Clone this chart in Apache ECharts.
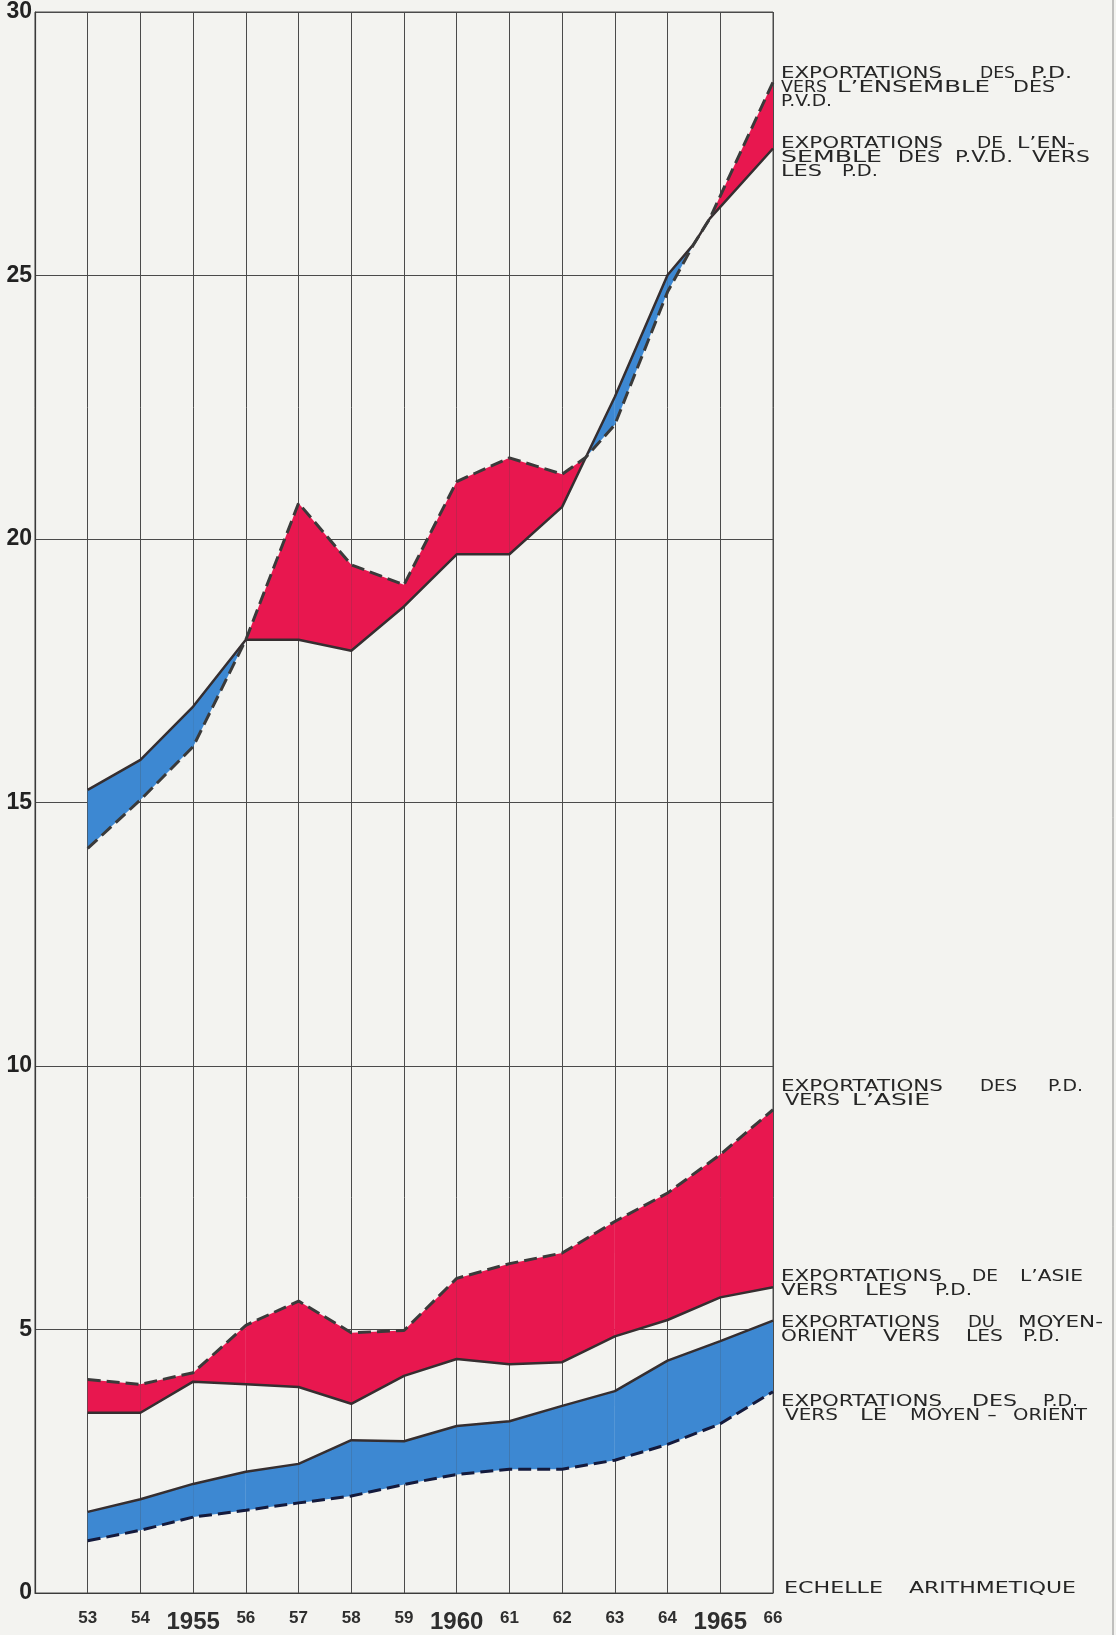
<!DOCTYPE html>
<html>
<head>
<meta charset="utf-8">
<title>Exportations P.D. / P.V.D.</title>
<script src="https://cdn.jsdelivr.net/npm/echarts@6.0.0/dist/echarts.min.js"></script>
<style>
  html, body { margin: 0; padding: 0; background: #f3f3f0; }
  #chart { width: 1116px; height: 1635px; }
</style>
</head>
<body>
<div id="chart"></div>
<script>
// upper pair: P.D. <-> ensemble des P.V.D. (crossing points)
const upperYears = [53, 54, 55, 56, 57, 58, 59, 60, 61, 62, 62.45, 63, 64, 64.5, 64.8, 66];
const pdVersPvd = [14.13, 15.05, 16.06, 18.09, 20.68, 19.51, 19.13, 21.09, 21.54, 21.23, 21.55, 22.17, 24.69, 25.6, 26.08, 28.67];
const pvdVersPd = [15.24, 15.81, 16.82, 18.09, 18.09, 17.88, 18.72, 19.71, 19.71, 20.61, 21.55, 22.7, 25.01, 25.6, 26.08, 27.41];

// lower pairs: Asie and Moyen-Orient
const lowerYears = [53, 54, 55, 56, 57, 58, 59, 60, 61, 62, 63, 64, 65, 66];
const pdVersAsie = [4.05, 3.96, 4.18, 5.08, 5.54, 4.94, 4.98, 5.97, 6.25, 6.45, 7.05, 7.59, 8.32, 9.17];
const asieVersPd = [3.42, 3.42, 4.01, 3.96, 3.91, 3.59, 4.12, 4.44, 4.34, 4.38, 4.87, 5.18, 5.61, 5.8];
const moVersPd = [1.54, 1.78, 2.07, 2.3, 2.45, 2.9, 2.88, 3.17, 3.26, 3.55, 3.83, 4.41, 4.78, 5.17];
const pdVersMo = [0.99, 1.19, 1.44, 1.57, 1.71, 1.84, 2.06, 2.25, 2.35, 2.35, 2.52, 2.82, 3.21, 3.82];

const bigYears = { 55: "1955", 60: "1960", 65: "1965" };

// right-hand captions: each word stretched between its left and right edge (justified lettering)
const labelBlocks = [
  { top: 67, lines: [
    [["EXPORTATIONS", 781, 942], ["DES", 980, 1015], ["P.D.", 1031, 1072]],
    [["VERS", 781, 827], ["L\u2019ENSEMBLE", 837, 990], ["DES", 1013, 1055]],
    [["P.V.D.", 781, 832]]
  ] },
  { top: 137, lines: [
    [["EXPORTATIONS", 781, 943], ["DE", 977, 1003], ["L\u2019EN-", 1017, 1075]],
    [["SEMBLE", 781, 882], ["DES", 898, 940], ["P.V.D.", 955, 1013], ["VERS", 1032, 1090]],
    [["LES", 781, 822], ["P.D.", 842, 878]]
  ] },
  { top: 1079.5, lines: [
    [["EXPORTATIONS", 781, 943], ["DES", 980, 1017], ["P.D.", 1048, 1083]],
    [["VERS", 785, 840], ["L\u2019ASIE", 852, 930]]
  ] },
  { top: 1269.5, lines: [
    [["EXPORTATIONS", 781, 942], ["DE", 972, 998], ["L\u2019ASIE", 1020, 1083]],
    [["VERS", 781, 838], ["LES", 865, 907], ["P.D.", 935, 972]]
  ] },
  { top: 1315.5, lines: [
    [["EXPORTATIONS", 781, 940], ["DU", 968, 995], ["MOYEN-", 1018, 1103]],
    [["ORIENT", 781, 857], ["VERS", 883, 940], ["LES", 966, 1003], ["P.D.", 1023, 1060]]
  ] },
  { top: 1395, lines: [
    [["EXPORTATIONS", 781, 942], ["DES", 972, 1017], ["P.D.", 1043, 1078]],
    [["VERS", 785, 838], ["LE", 860, 887], ["MOYEN", 910, 980], ["-", 987, 997], ["ORIENT", 1013, 1087]]
  ] },
  { top: 1582, lines: [
    [["ECHELLE", 784, 883], ["ARITHMETIQUE", 909, 1076]]
  ] }
];

const RED = "#e8174f";
const BLUE = "#3d88d2";
const CAPTION_FONT = "15px 'DejaVu Sans', sans-serif";

const pairs = (xs, ys) => xs.map((x, i) => [x, ys[i]]);

// band between the dashed (P.D. exports) and solid line: red when dashed is above, blue otherwise
const band = (name, xs, dashed, solid) => ({
  name,
  type: "custom",
  z: 1,
  silent: true,
  data: xs.map((x, i) => [x, dashed[i], solid[i]]),
  encode: { x: 0, y: [1, 2] },
  renderItem: (params, api) => {
    const i = params.dataIndex;
    if (i >= xs.length - 1) return null;
    const pts = [
      api.coord([xs[i], dashed[i]]),
      api.coord([xs[i + 1], dashed[i + 1]]),
      api.coord([xs[i + 1], solid[i + 1]]),
      api.coord([xs[i], solid[i]])
    ];
    const up = dashed[i] + dashed[i + 1] >= solid[i] + solid[i + 1];
    return { type: "polygon", shape: { points: pts }, style: { fill: up ? RED : BLUE } };
  }
});

const solidLine = (name, xs, ys) => ({
  name,
  type: "line",
  z: 3,
  silent: true,
  symbol: "none",
  data: pairs(xs, ys),
  lineStyle: { color: "#352e30", width: 2.5 }
});

const dashedLine = (name, xs, ys, color) => ({
  name,
  type: "line",
  z: 4,
  silent: true,
  symbol: "none",
  data: pairs(xs, ys),
  lineStyle: { color, width: 3, type: [13, 6] }
});

const measureCtx = document.createElement("canvas").getContext("2d");
measureCtx.font = CAPTION_FONT;

const textGraphics = [];
labelBlocks.forEach((b) => {
  b.lines.forEach((words, k) => {
    words.forEach(([w, x0, x1]) => {
      const natural = measureCtx.measureText(w).width || 1;
      textGraphics.push({
        type: "text",
        x: x0,
        y: b.top + k * 14,
        scaleX: (x1 - x0) / natural,
        silent: true,
        style: {
          text: w,
          fill: "#262626",
          font: CAPTION_FONT,
          verticalAlign: "top",
          align: "left"
        }
      });
    });
  });
});
textGraphics.push({
  type: "line",
  silent: true,
  shape: { x1: 1113, y1: 0, x2: 1113, y2: 1635 },
  style: { stroke: "#8a8a8a", lineWidth: 1 }
});

const axisFont = "'Liberation Sans', Arial, sans-serif";

const option = {
  backgroundColor: "#f3f3f0",
  animation: false,
  grid: { left: 35, right: 343, top: 12, bottom: 42, show: true, borderColor: "#4a4a4a", borderWidth: 1 },
  xAxis: {
    type: "value",
    min: 52,
    max: 66,
    interval: 1,
    axisLine: { show: true, lineStyle: { color: "#3a3a3a", width: 1.2 } },
    axisTick: { show: false },
    splitLine: { show: true, lineStyle: { color: "#4a4a4a", width: 1 } },
    axisLabel: {
      margin: 17,
      color: "#2e2e2e",
      formatter: (v) => {
        if (v === 52) return "";
        if (bigYears[v]) return "{big|" + bigYears[v] + "}";
        return "{sm|" + v + "}";
      },
      rich: {
        sm: { fontSize: 17, fontWeight: "bold", fontFamily: axisFont, color: "#2e2e2e" },
        big: { fontSize: 24, fontWeight: "bold", fontFamily: axisFont, color: "#2e2e2e" }
      }
    }
  },
  yAxis: {
    type: "value",
    min: 0,
    max: 30,
    interval: 5,
    axisLine: { show: true, lineStyle: { color: "#3a3a3a", width: 1.2 } },
    axisTick: { show: false },
    splitLine: { show: true, lineStyle: { color: "#4a4a4a", width: 1 } },
    axisLabel: {
      margin: 3,
      fontSize: 23,
      fontWeight: "bold",
      fontFamily: axisFont,
      color: "#222"
    }
  },
  graphic: textGraphics,
  series: [
    band("bande P.D./P.V.D.", upperYears, pdVersPvd, pvdVersPd),
    band("bande Asie", lowerYears, pdVersAsie, asieVersPd),
    band("bande Moyen-Orient", lowerYears, pdVersMo, moVersPd),
    solidLine("Exportations de l'ensemble des P.V.D. vers les P.D.", upperYears, pvdVersPd),
    solidLine("Exportations de l'Asie vers les P.D.", lowerYears, asieVersPd),
    solidLine("Exportations du Moyen-Orient vers les P.D.", lowerYears, moVersPd),
    dashedLine("Exportations des P.D. vers l'ensemble des P.V.D.", upperYears, pdVersPvd, "#3a3a3a"),
    dashedLine("Exportations des P.D. vers l'Asie", lowerYears, pdVersAsie, "#3a3a3a"),
    dashedLine("Exportations des P.D. vers le Moyen-Orient", lowerYears, pdVersMo, "#141a3c")
  ]
};

const myChart = echarts.init(document.getElementById("chart"));
myChart.setOption(option);
window.onresize = function () {
  myChart.resize();
};
</script>
</body>
</html>
